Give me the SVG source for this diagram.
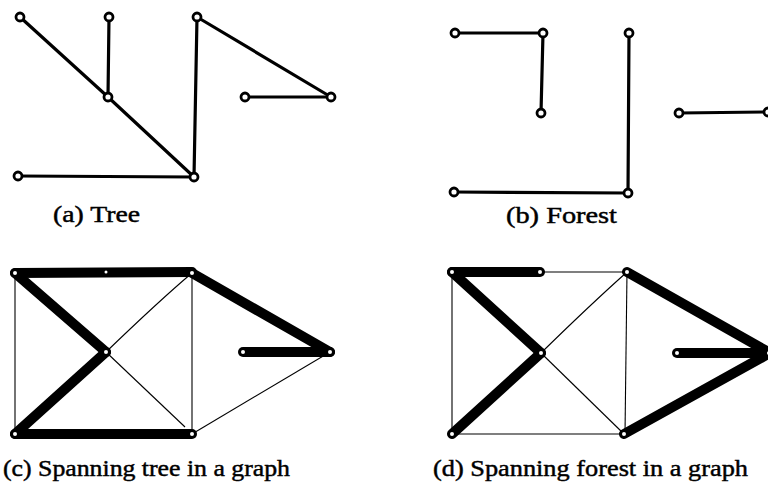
<svg xmlns="http://www.w3.org/2000/svg" width="768" height="486" viewBox="0 0 768 486">
<style>
  .bg{fill:#fff}
  .e{stroke:#000;stroke-width:3.2;stroke-linecap:round;fill:none}
  .thin{stroke:#000;stroke-width:1.1;fill:none}
  .thick{stroke:#000;stroke-width:10;stroke-linecap:round;fill:none}
  .n{fill:#fff;stroke:#000;stroke-width:2.8}
  .ns{fill:#fff;stroke:#000;stroke-width:2}
  .lbl{font-family:"Liberation Serif","Times New Roman",serif;font-size:23px;fill:#000;stroke:#000;stroke-width:0.45}
</style>
<rect class="bg" x="0" y="0" width="768" height="486"/>

<g id="connectors">
  <!-- (a) tree -->
  <g id="edges-a">
    <line class="e" x1="20" y1="17" x2="108" y2="97"/>
    <line class="e" x1="108" y1="97" x2="194" y2="177"/>
    <line class="e" x1="109" y1="17" x2="108" y2="97"/>
    <line class="e" x1="197" y1="17" x2="194" y2="177"/>
    <line class="e" x1="197" y1="17" x2="331" y2="97"/>
    <line class="e" x1="245" y1="97" x2="331" y2="97"/>
    <line class="e" x1="18" y1="176" x2="194" y2="177"/>
  </g>
  <!-- (b) forest -->
  <g id="edges-b">
    <line class="e" x1="455" y1="33" x2="543" y2="33"/>
    <line class="e" x1="543" y1="33" x2="541" y2="113"/>
    <line class="e" x1="629" y1="33" x2="628" y2="193"/>
    <line class="e" x1="454" y1="192" x2="628" y2="193"/>
    <line class="e" x1="679" y1="113" x2="766" y2="112"/>
  </g>
  <!-- (c) spanning tree -->
  <g id="edges-c">
    <line class="thin" x1="15" y1="273" x2="15" y2="434"/>
    <line class="thin" x1="192" y1="273" x2="192" y2="434"/>
    <path class="thin" d="M192,273 Q160,300 106,352"/>
    <line class="thin" x1="106" y1="352" x2="185" y2="427"/>
    <line class="thin" x1="192" y1="434" x2="330" y2="352"/>
    <line class="thick" x1="15" y1="273" x2="192" y2="272"/>
    <line class="thick" x1="15" y1="273" x2="106" y2="352"/>
    <line class="thick" x1="106" y1="352" x2="15" y2="434"/>
    <line class="thick" x1="15" y1="434" x2="192" y2="434"/>
    <line class="thick" x1="192" y1="273" x2="330" y2="352"/>
    <line class="thick" x1="243" y1="352" x2="330" y2="352"/>
  </g>
  <!-- (d) spanning forest -->
  <g id="edges-d">
    <line class="thin" x1="540" y1="272" x2="627" y2="272"/>
    <line class="thin" x1="452" y1="272" x2="452" y2="434"/>
    <line class="thin" x1="452" y1="434" x2="624" y2="434"/>
    <line class="thin" x1="627" y1="272" x2="625" y2="434"/>
    <path class="thin" d="M627,272 Q590,305 541,353"/>
    <line class="thin" x1="541" y1="353" x2="624" y2="434"/>
    <line class="thick" x1="452" y1="272" x2="540" y2="272"/>
    <line class="thick" x1="452" y1="272" x2="541" y2="353"/>
    <line class="thick" x1="541" y1="353" x2="452" y2="434"/>
    <line class="thick" x1="627" y1="272" x2="770" y2="353"/>
    <line class="thick" x1="624" y1="434" x2="770" y2="353"/>
    <line class="thick" x1="677" y1="353" x2="770" y2="353"/>
  </g>
</g>

<!-- (a) nodes -->
<g id="a1"><circle class="n" cx="20" cy="17" r="4"/></g>
<g id="a2"><circle class="n" cx="109" cy="17" r="4"/></g>
<g id="a3"><circle class="n" cx="197" cy="17" r="4"/></g>
<g id="a4"><circle class="n" cx="108" cy="97" r="4"/></g>
<g id="a5"><circle class="n" cx="245" cy="97" r="4"/></g>
<g id="a6"><circle class="n" cx="331" cy="97" r="4"/></g>
<g id="a7"><circle class="n" cx="18" cy="176" r="4"/></g>
<g id="a8"><circle class="n" cx="194" cy="177" r="4"/></g>

<!-- (b) nodes -->
<g id="b1"><circle class="n" cx="455" cy="33" r="4"/></g>
<g id="b2"><circle class="n" cx="543" cy="33" r="4"/></g>
<g id="b3"><circle class="n" cx="541" cy="113" r="4"/></g>
<g id="b4"><circle class="n" cx="629" cy="33" r="4"/></g>
<g id="b5"><circle class="n" cx="454" cy="192" r="4"/></g>
<g id="b6"><circle class="n" cx="628" cy="193" r="4"/></g>
<g id="b7"><circle class="n" cx="679" cy="113" r="4"/></g>
<g id="b8"><circle class="n" cx="768" cy="112" r="4"/></g>

<!-- (c) nodes -->
<g id="c1"><circle class="ns" cx="15" cy="273" r="3"/></g>
<g id="c2"><circle class="ns" cx="106" cy="272" r="2.5"/></g>
<g id="c3"><circle class="ns" cx="192" cy="273" r="3"/></g>
<g id="c4"><circle class="ns" cx="106" cy="352" r="3"/></g>
<g id="c5"><circle class="ns" cx="243" cy="352" r="3"/></g>
<g id="c6"><circle class="ns" cx="330" cy="352" r="3"/></g>
<g id="c7"><circle class="ns" cx="15" cy="434" r="3"/></g>
<g id="c8"><circle class="ns" cx="192" cy="434" r="3"/></g>

<!-- (d) nodes -->
<g id="d1"><circle class="ns" cx="452" cy="272" r="3"/></g>
<g id="d2"><circle class="ns" cx="540" cy="272" r="3"/></g>
<g id="d3"><circle class="ns" cx="627" cy="272" r="3"/></g>
<g id="d4"><circle class="ns" cx="541" cy="353" r="3"/></g>
<g id="d5"><circle class="ns" cx="677" cy="353" r="3"/></g>
<g id="d6"><circle class="ns" cx="769" cy="353" r="3"/></g>
<g id="d7"><circle class="ns" cx="452" cy="434" r="3"/></g>
<g id="d8"><circle class="ns" cx="624" cy="434" r="3"/></g>

<g id="labels">
  <text class="lbl" x="53" y="222" textLength="87" lengthAdjust="spacingAndGlyphs">(a) Tree</text>
  <text class="lbl" x="506" y="223" textLength="111" lengthAdjust="spacingAndGlyphs">(b) Forest</text>
  <text class="lbl" x="3" y="476" textLength="287" lengthAdjust="spacingAndGlyphs">(c) Spanning tree in a graph</text>
  <text class="lbl" x="433" y="476" textLength="315" lengthAdjust="spacingAndGlyphs">(d) Spanning forest in a graph</text>
</g>
</svg>
